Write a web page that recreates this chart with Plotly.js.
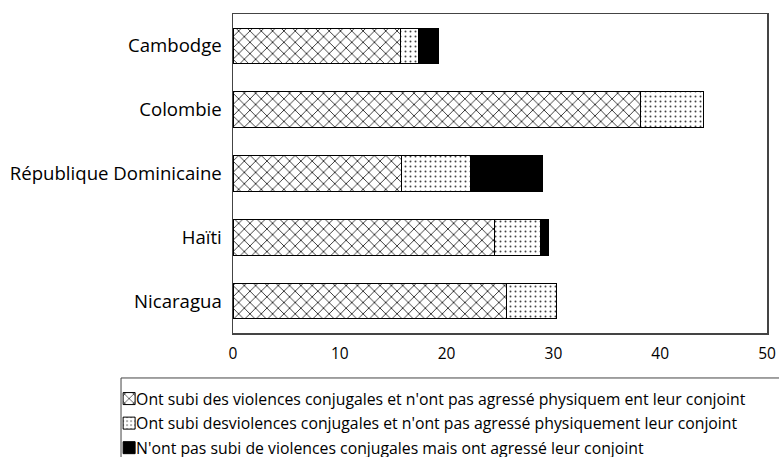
<!DOCTYPE html>
<html>
<head>
<meta charset="utf-8">
<script src="https://cdn.plot.ly/plotly-3.0.1.min.js"></script>
<style>html,body{margin:0;padding:0;background:#fff;}#chart{width:779px;height:457px;}</style>
</head>
<body>
<div id="chart"></div>
<script>
var countries = ["Cambodge", "Colombie", "République Dominicaine", "Haïti", "Nicaragua"];
var seriesNames = [
  "Ont subi des violences conjugales et n'ont pas agressé physiquem ent leur conjoint",
  "Ont subi desviolences conjugales et n'ont pas agressé physiquement leur conjoint",
  "N'ont pas subi de violences conjugales mais ont agressé leur conjoint"
];
var victimOnly = [15.7, 38.2, 15.8, 24.5, 25.6];
var bothViolence = [1.7, 5.9, 6.4, 4.3, 4.7];
var aggressorOnly = [1.8, 0, 6.8, 0.7, 0];
var xTicks = [0, 10, 20, 30, 40, 50];

var fontFam = "'Open Sans', Lato, sans-serif";
var lineStyle = {color: "#000", width: 1};

var traces = [
  {type: "bar", orientation: "h", name: seriesNames[0], legendgroup: "a", y: countries, x: victimOnly,
   marker: {color: "#fff", line: lineStyle, pattern: {shape: "x", fgcolor: "#333", bgcolor: "#fff", size: 8, solidity: 0.22}}},
  {type: "bar", orientation: "h", name: seriesNames[1], legendgroup: "b", y: countries, x: bothViolence,
   marker: {color: "#fff", line: lineStyle, pattern: {shape: ".", fgcolor: "#444", bgcolor: "#fff", size: 5, solidity: 0.12}}},
  {type: "bar", orientation: "h", name: seriesNames[2], legendgroup: "c", y: countries, x: aggressorOnly,
   marker: {color: "#000", line: lineStyle}}
];

var layout = {
  width: 779, height: 457,
  margin: {l: 233, r: 12, t: 14, b: 124, autoexpand: false},
  barmode: "stack",
  bargap: 0.44,
  paper_bgcolor: "#fff", plot_bgcolor: "#fff",
  font: {family: fontFam, size: 16, color: "#000"},
  showlegend: true,
  legend: {
    orientation: "v", x: -0.232, xanchor: "left", y: -0.153, yanchor: "top",
    font: {family: fontFam, size: 15.8, color: "#000"},
    bgcolor: "rgba(0,0,0,0)", borderwidth: 0,
    itemwidth: 30, tracegroupgap: 1, traceorder: "grouped"
  },
  xaxis: {
    range: [0, 50], tickvals: xTicks, ticktext: xTicks.map(String),
    showgrid: false, zeroline: false, showline: true, mirror: true,
    linecolor: "#444", linewidth: 1.5, ticks: "", ticklabelstandoff: 6,
    tickfont: {family: fontFam, size: 15.5, color: "#000"}, fixedrange: true
  },
  yaxis: {
    autorange: "reversed", categoryorder: "array", categoryarray: countries,
    showgrid: false, zeroline: false, showline: true, mirror: true,
    linecolor: "#444", linewidth: 1.5, ticks: "", ticklabelstandoff: 6,
    tickfont: {family: fontFam, size: 18.6, color: "#000"}, fixedrange: true
  },
  shapes: [
    {type: "rect", xref: "paper", yref: "paper", x0: -0.2097, x1: 1.1, y0: -0.141, y1: -0.5,
     line: {color: "#444", width: 1}, fillcolor: "rgba(0,0,0,0)", layer: "below"}
  ]
};

Plotly.newPlot("chart", traces, layout, {displayModeBar: false, staticPlot: true}).then(function (gd) {
  var texts = gd.querySelectorAll(".legend .legendtext");
  texts.forEach(function (t) {
    var x = parseFloat(t.getAttribute("x")) || 0;
    t.setAttribute("x", x - 13);
  });
});
</script>
</body>
</html>
